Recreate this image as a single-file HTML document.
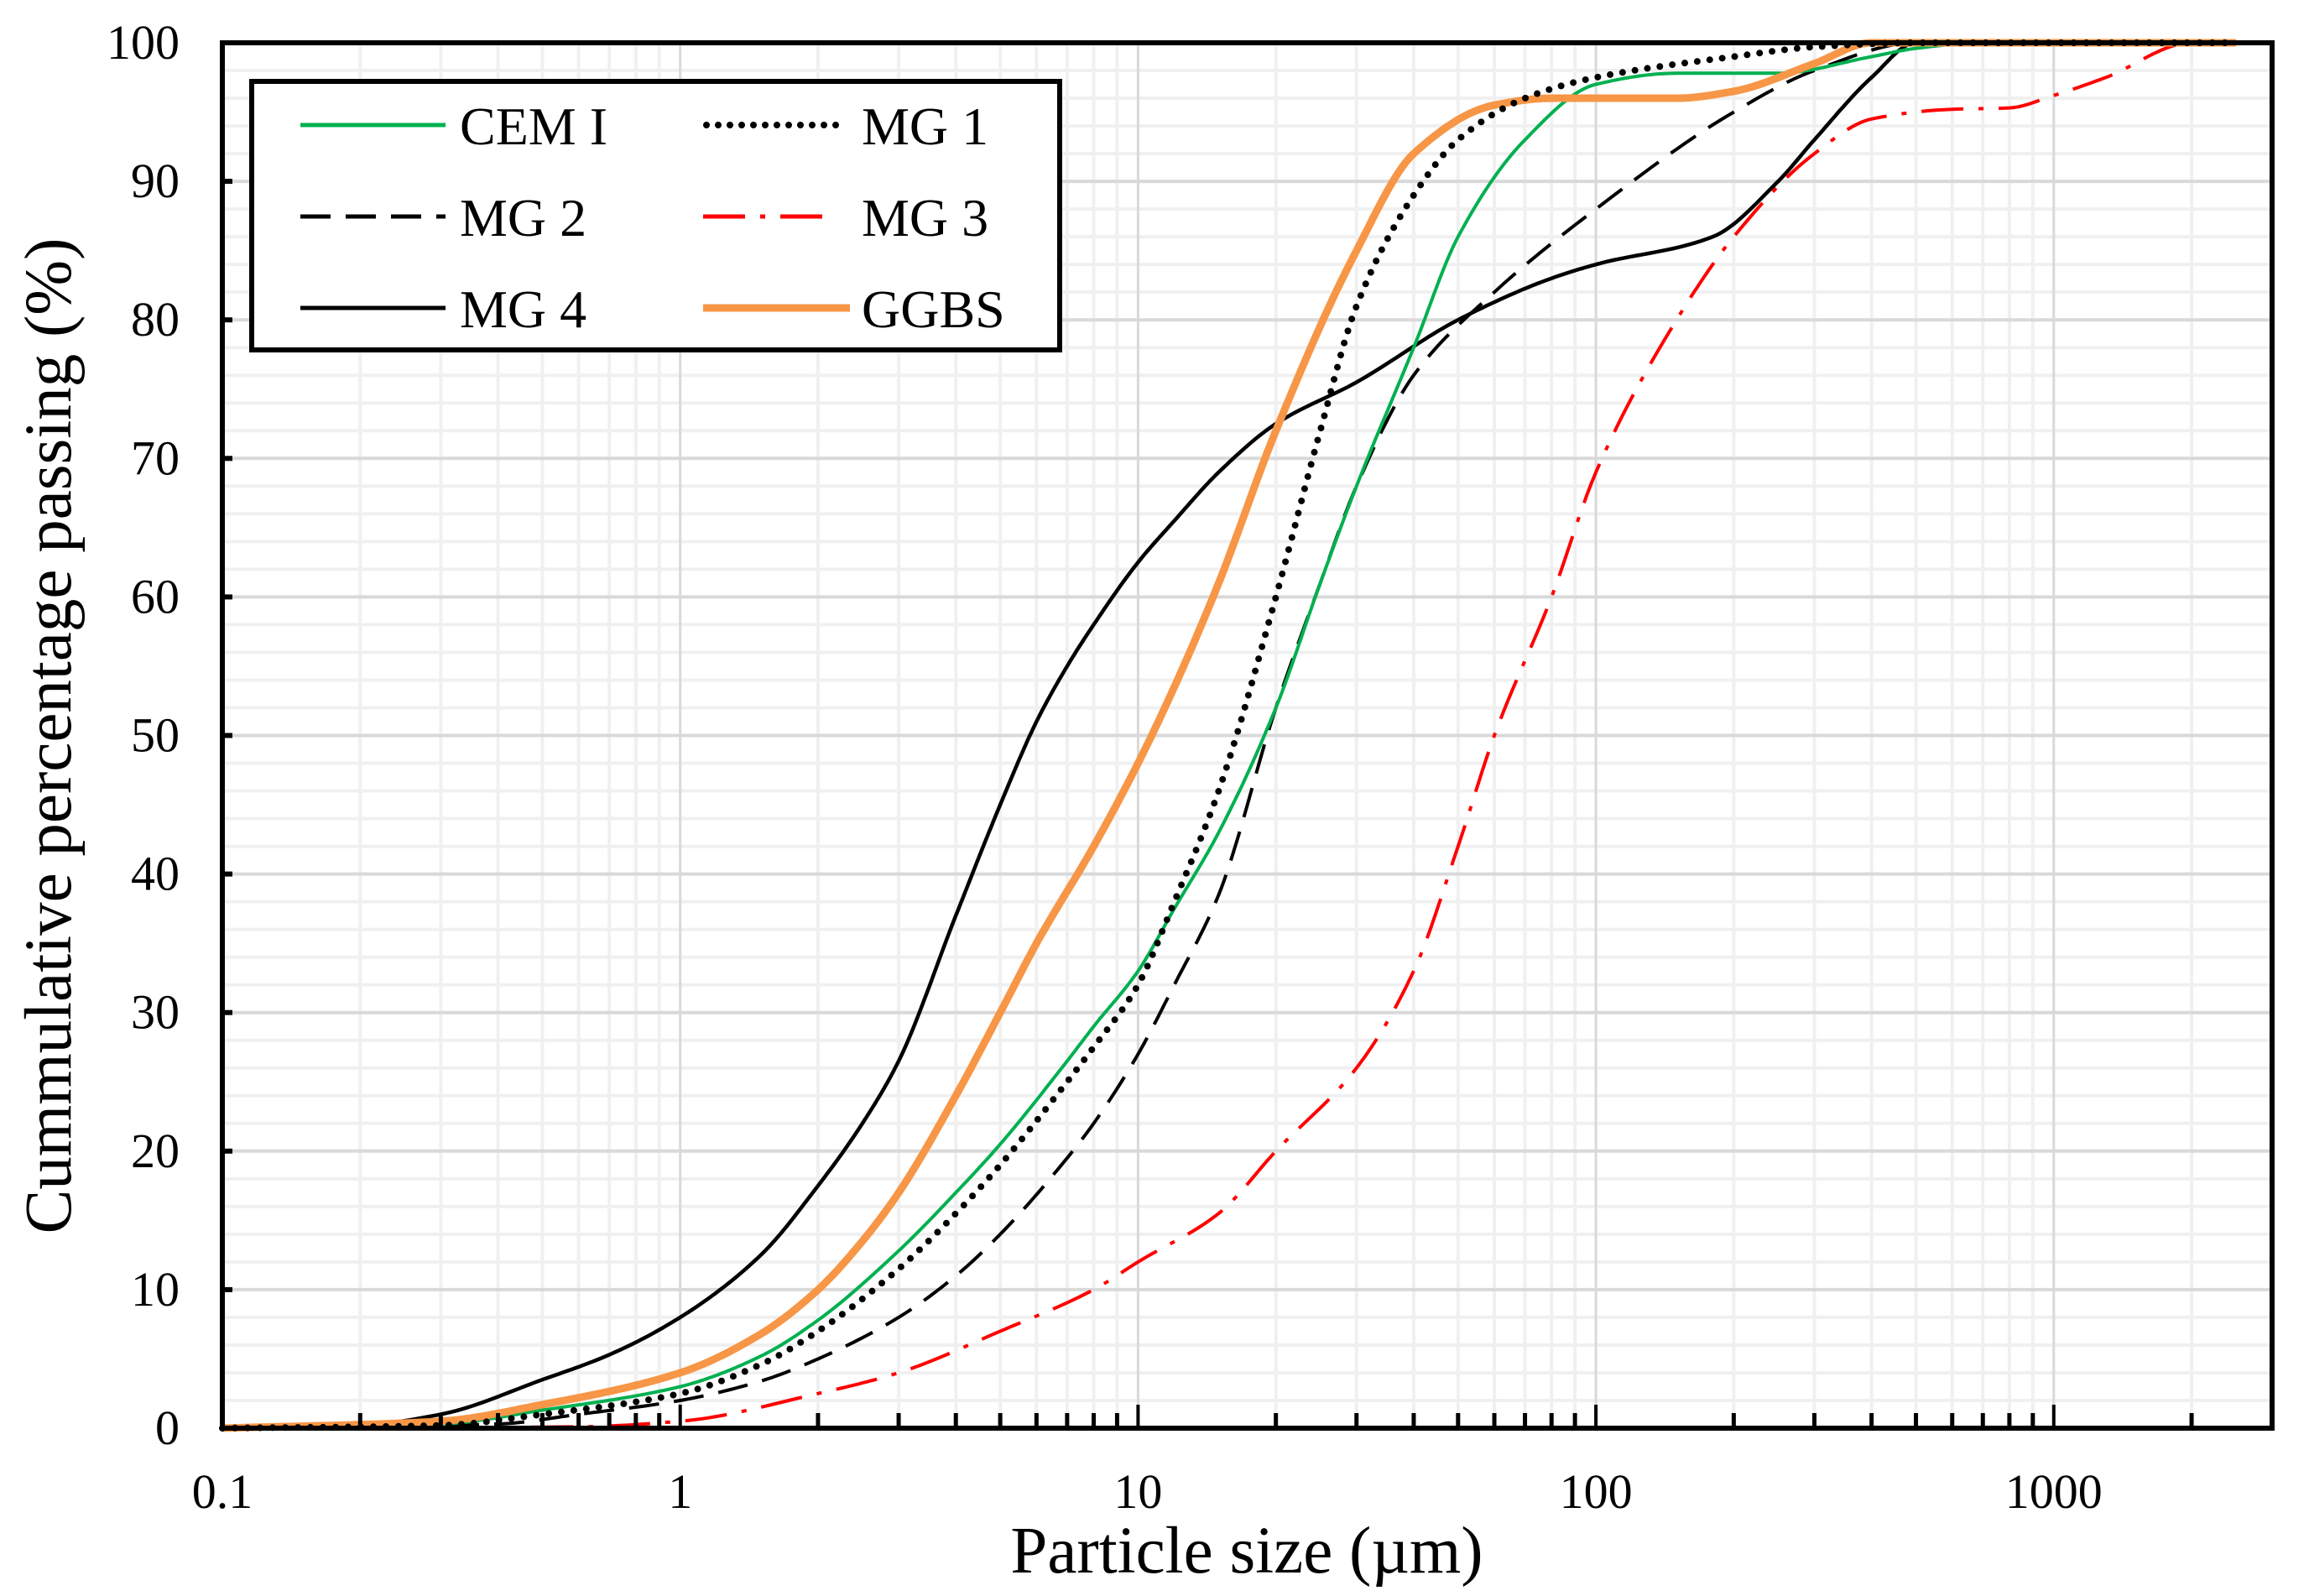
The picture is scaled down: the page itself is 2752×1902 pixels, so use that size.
<!DOCTYPE html>
<html><head><meta charset="utf-8">
<style>
html,body{margin:0;padding:0;background:#fff;}
svg{display:block;font-family:"Liberation Serif",serif;}
</style></head>
<body>
<svg id="chart" width="2752" height="1902" viewBox="0 0 2752 1902" xmlns="http://www.w3.org/2000/svg">
<rect x="0" y="0" width="2752" height="1902" fill="#fff"/>
<g id="grid"></g>
<g id="series"></g>
<g id="axes"></g>
<text transform="translate(84,877) rotate(-90)" text-anchor="middle" font-size="79" fill="#000">Cummulative percentage passing (%)</text>
<text x="1486" y="1874" text-anchor="middle" font-size="79" fill="#000">Particle size (µm)</text>
<g>
<rect x="300" y="97" width="963" height="320" fill="#fff" stroke="#000" stroke-width="6"/>
<line x1="358" y1="149" x2="531" y2="149" stroke="#00b050" stroke-width="5"/>
<text x="548" y="172" font-size="64">CEM I</text>
<line x1="842" y1="149" x2="1010" y2="149" stroke="#000" stroke-width="8" stroke-linecap="round" stroke-dasharray="0 14"/>
<text x="1027" y="172" font-size="64">MG 1</text>
<line x1="358" y1="258" x2="531" y2="258" stroke="#000" stroke-width="5" stroke-dasharray="36 18"/>
<text x="548" y="281" font-size="64">MG 2</text>
<line x1="838" y1="258" x2="988" y2="258" stroke="#ff0000" stroke-width="5" stroke-dasharray="50 18 6 18"/>
<text x="1027" y="281" font-size="64">MG 3</text>
<line x1="358" y1="367" x2="531" y2="367" stroke="#000" stroke-width="5"/>
<text x="548" y="390" font-size="64">MG 4</text>
<line x1="838" y1="367" x2="1013" y2="367" stroke="#f79646" stroke-width="9"/>
<text x="1027" y="390" font-size="64">GGBS</text>
</g>
</svg>
<script>
const cemX=[0.1,0.3,0.5,1,1.5,2,3,4,5,7,8,10,12,15,20,25,30,40,50,70,100,150,250,400,500,700,2500];
const cemY=[0,0.3,1.3,3,5.2,7.8,12.8,17,20.5,26.5,29,33,37.5,43,52,61,68,78,86,93,97,97.8,97.8,99,99.6,100,100];
const mg1X=[0.1,0.3,0.5,1,1.5,2,3,4,5,7,8,10,12,15,20,25,30,40,50,70,100,200,300,500,2500];
const mg1Y=[0,0.2,1,2.5,4.6,7,11.5,15.5,19,25,27.5,32,38,46,60,72,81,89,93,96,97.5,99,99.7,100,100];
const mg2X=[0.1,0.4,0.6,1,1.5,2,3,4,5,7,8,10,12,15,20,25,30,40,60,100,200,300,500,2500];
const mg2Y=[0,0.3,1,2,3.4,5,8,11,14,19.5,22,27,32,38.5,52,61,68,76,82,88,95,98,100,100];
const mg3X=[0.1,0.6,1,2,3,5,8,10,15,20,30,40,50,60,80,100,150,200,300,400,600,800,1000,1300,2000,2500];
const mg3Y=[0,0.1,0.5,2.5,4,7,10,12,15.5,20,26,33,42,50,60,69,80,86,92,94.5,95.2,95.3,96.2,97.5,100,100];
const mg4X=[0.1,0.2,0.3,0.5,0.7,1,1.5,2,2.5,3,4,5,6,7,8,10,12,15,20,30,50,80,100,180,250,300,400,500,2500];
const mg4Y=[0,0.2,1,3.5,5.3,8,12.5,17.5,22,26.5,37,45,51,55,58,62.5,65.5,69,72.5,75.5,80,83,84,86,90,93,97.5,100,100];
const ggbsX=[0.1,0.3,0.5,1,1.5,2,2.5,3,4,5,6,8,10,12,15,20,30,40,60,80,100,150,200,300,400,2500];
const ggbsY=[0,0.5,1.7,4,6.8,10,13.5,17,24,30,35,42,48,53.5,61,72,85,92,95.5,96,96,96,96.5,98.5,100,100];
const yTicks=[0,10,20,30,40,50,60,70,80,90,100];
const xTickLabels=["0.1","1","10","100","1000"];

const L=265,R=2708,T=51,B=1702,DEC=545.7;
const NS="http://www.w3.org/2000/svg";
function sx(v){return L+Math.log10(v/0.1)*DEC;}
function sy(v){return B-(v/100)*(B-T);}
function mk(tag,attrs,parent){const e=document.createElementNS(NS,tag);for(const k in attrs)e.setAttribute(k,attrs[k]);parent.appendChild(e);return e;}
const grid=document.getElementById('grid'),axes=document.getElementById('axes'),series=document.getElementById('series');

for(let v=2;v<100;v+=2){if(v%10===0)continue;
 const l=mk('line',{x1:L,x2:R,y1:sy(v),y2:sy(v),stroke:'#f0f0f0','stroke-width':4},grid);
 
 }
for(let d=0.1;d<3000;d*=10){for(let m=2;m<=9;m++){const v=d*m;if(v>3000)break;
 const l=mk('line',{x1:sx(v),x2:sx(v),y1:T,y2:B,stroke:'#f0f0f0','stroke-width':4},grid);
 
 }}
yTicks.forEach(v=>{
 const l=mk('line',{x1:L,x2:R,y1:sy(v),y2:sy(v),stroke:'#d9d9d9','stroke-width':4},grid);
 
 });
xTickLabels.forEach(t=>{const v=parseFloat(t);
 const l=mk('line',{x1:sx(v),x2:sx(v),y1:T,y2:B,stroke:'#d9d9d9','stroke-width':3},grid);
 
 });

function pathFor(xs,ys){
 const t=xs.map(v=>Math.log10(v)),n=t.length;
 const h=[],dl=[];
 for(let i=0;i<n-1;i++){h.push(t[i+1]-t[i]);dl.push((ys[i+1]-ys[i])/h[i]);}
 const m=new Array(n);
 m[0]=dl[0];m[n-1]=dl[n-2];
 for(let i=1;i<n-1;i++){
  if(dl[i-1]*dl[i]<=0)m[i]=0;
  else{const w1=2*h[i]+h[i-1],w2=h[i]+2*h[i-1];m[i]=(w1+w2)/(w1/dl[i-1]+w2/dl[i]);}
 }
 let d='';
 for(let i=0;i<n-1;i++){
  const steps=20;
  for(let k=(i===0?0:1);k<=steps;k++){
   const s=k/steps,hh=h[i];
   const h00=2*s*s*s-3*s*s+1,h10=s*s*s-2*s*s+s,h01=-2*s*s*s+3*s*s,h11=s*s*s-s*s;
   const y=h00*ys[i]+h10*hh*m[i]+h01*ys[i+1]+h11*hh*m[i+1];
   const tx=t[i]+s*hh;
   const px=L+(tx+1)*DEC,py=sy(y);
   d+=(d===''?'M':'L')+px.toFixed(1)+','+py.toFixed(1);
  }
 }
 return d;
}
function addSeries(xs,ys,name,attrs){
 const e=mk('path',Object.assign({d:pathFor(xs,ys),fill:'none','stroke-linejoin':'round'},attrs),series);
 
 
}
addSeries(mg3X,mg3Y,'series-mg3',{stroke:'#ff0000','stroke-width':4,'stroke-dasharray':'50 18 6 18'});
addSeries(mg2X,mg2Y,'series-mg2',{stroke:'#000','stroke-width':4,'stroke-dasharray':'36 18'});
addSeries(mg4X,mg4Y,'series-mg4',{stroke:'#000','stroke-width':4.5});
addSeries(cemX,cemY,'series-cem1',{stroke:'#00b050','stroke-width':4});
addSeries(ggbsX,ggbsY,'series-ggbs',{stroke:'#f79646','stroke-width':9});
addSeries(mg1X,mg1Y,'series-mg1',{stroke:'#000','stroke-width':8,'stroke-linecap':'round','stroke-dasharray':'0 15'});

const fr=mk('rect',{x:L,y:T,width:R-L,height:B-T,fill:'none',stroke:'#000','stroke-width':6},axes);


for(let d=0.1;d<3000;d*=10){for(let m=1;m<=9;m++){const v=d*m;if(v>3000)break;
 const len=m===1?28:18;
 const tk=mk('line',{x1:sx(v),x2:sx(v),y1:B,y2:B-len,stroke:'#000','stroke-width':m===1?4:5},axes);
 
 }}
xTickLabels.forEach(s=>{const v=parseFloat(s);
 const tx=mk('text',{x:sx(v),y:1797,'text-anchor':'middle','font-size':58},axes);tx.textContent=s;
 
 });
yTicks.forEach(v=>{
 const tk=mk('line',{x1:L,x2:L+12,y1:sy(v),y2:sy(v),stroke:'#000','stroke-width':6},axes);
 
 
 const tx=mk('text',{x:214,y:sy(v)+19,'text-anchor':'end','font-size':58},axes);tx.textContent=String(v);
 
 });
</script>
</body></html>
